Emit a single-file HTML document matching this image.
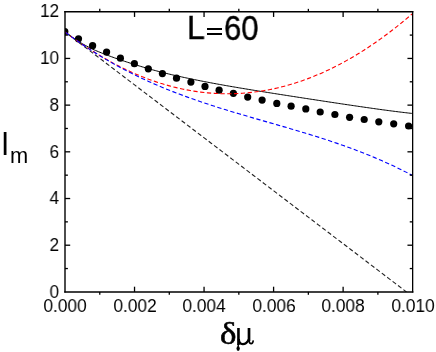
<!DOCTYPE html>
<html><head><meta charset="utf-8"><style>
html,body{margin:0;padding:0;background:#fff;}
body{width:436px;height:352px;position:relative;overflow:hidden;font-family:"Liberation Sans",sans-serif;color:#000;}
.t,.tt,#yl,#xl{will-change:transform;}
.t{position:absolute;font-size:18.2px;line-height:20px;height:20px;white-space:nowrap;}
.xt{width:80px;text-align:center;top:296.1px;transform:scaleX(0.95);transform-origin:50% 0;}
.yt{width:59.2px;text-align:right;left:0;transform:scaleX(0.95);transform-origin:100% 0;}
#yl{position:absolute;left:0.5px;top:122.7px;font-size:33.7px;line-height:40px;white-space:nowrap;}
#yl span{position:absolute;display:inline-block;transform-origin:0 0;}
#yI{left:0;top:0;transform:scaleX(0.88);}
#ym{font-size:22.5px;top:13.4px;left:9.4px;transform:scaleX(0.97);}
#xl{position:absolute;left:219px;top:314.3px;font-family:"Liberation Serif",serif;font-size:31px;line-height:36px;white-space:nowrap;}
#xl span{position:absolute;top:0;display:inline-block;transform-origin:0 0;}
#d1{left:1.3px;top:0.6px !important;font-size:32px;transform:scaleX(1.09);-webkit-text-stroke:0.6px #000;}
#d2{left:15.3px;top:1.1px !important;transform:scaleX(1.2);}
.tt{position:absolute;white-space:nowrap;line-height:40px;transform-origin:0 0;-webkit-text-stroke:0.4px #000;}
#tL{left:187.2px;top:8.0px;font-size:33.0px;transform:scaleX(0.975);}
#t60{left:223.9px;top:8.0px;font-size:34.8px;transform:scaleX(0.895);}
.eq{position:absolute;left:206.9px;width:15.1px;height:2.1px;background:#000;}
</style></head><body>
<svg width="436" height="352" viewBox="0 0 436 352" style="position:absolute;left:0;top:0"><clipPath id="c"><rect x="65.0" y="11.75" width="347.65" height="280.15"/></clipPath><g clip-path="url(#c)" fill="#000"><circle cx="64.8" cy="31.6" r="3.6"/><circle cx="78.5" cy="38.8" r="3.6"/><circle cx="92.6" cy="45.7" r="3.6"/><circle cx="106.6" cy="52.1" r="3.6"/><circle cx="120.4" cy="58.2" r="3.6"/><circle cx="134.4" cy="63.7" r="3.6"/><circle cx="148.3" cy="68.8" r="3.6"/><circle cx="162.4" cy="73.6" r="3.6"/><circle cx="176.5" cy="78.2" r="3.6"/><circle cx="190.9" cy="82.1" r="3.6"/><circle cx="205" cy="86.4" r="3.6"/><circle cx="219.1" cy="90.2" r="3.6"/><circle cx="233.4" cy="93.3" r="3.6"/><circle cx="247.7" cy="97.1" r="3.6"/><circle cx="262.1" cy="100.1" r="3.6"/><circle cx="276.8" cy="103.4" r="3.6"/><circle cx="291.1" cy="106.2" r="3.6"/><circle cx="305.8" cy="108.9" r="3.6"/><circle cx="320.2" cy="112.0" r="3.6"/><circle cx="334.9" cy="114.5" r="3.6"/><circle cx="349.6" cy="117.3" r="3.6"/><circle cx="364.2" cy="119.5" r="3.6"/><circle cx="378.8" cy="121.8" r="3.6"/><circle cx="393.7" cy="123.8" r="3.6"/><circle cx="408.6" cy="126.0" r="3.6"/></g><g clip-path="url(#c)" fill="none" stroke-width="1.1"><path d="M65.00,31.92 L66.46,33.06 L67.91,34.17 L69.37,35.25 L70.82,36.30 L72.28,37.32 L73.74,38.31 L75.19,39.28 L76.65,40.24 L78.10,41.16 L79.56,42.06 L81.02,42.93 L82.47,43.76 L83.93,44.59 L85.38,45.39 L86.84,46.19 L88.30,46.96 L89.75,47.71 L91.21,48.45 L92.67,49.16 L94.12,49.83 L95.58,50.47 L97.03,51.09 L98.49,51.69 L99.95,52.29 L101.40,52.88 L102.86,53.46 L104.31,54.03 L105.77,54.59 L107.23,55.15 L108.68,55.70 L110.14,56.24 L111.59,56.77 L113.05,57.30 L114.51,57.83 L115.96,58.35 L117.42,58.86 L118.87,59.36 L120.33,59.85 L121.79,60.35 L123.24,60.83 L124.70,61.32 L126.15,61.80 L127.61,62.28 L129.07,62.75 L130.52,63.22 L131.98,63.69 L133.44,64.15 L134.89,64.60 L136.35,65.05 L137.80,65.50 L139.26,65.95 L140.72,66.39 L142.17,66.83 L143.63,67.26 L145.08,67.69 L146.54,68.12 L148.00,68.54 L149.45,68.95 L150.91,69.36 L152.36,69.77 L153.82,70.17 L155.28,70.56 L156.73,70.95 L158.19,71.34 L159.64,71.72 L161.10,72.09 L162.56,72.46 L164.01,72.83 L165.47,73.19 L166.92,73.54 L168.38,73.90 L169.84,74.24 L171.29,74.59 L172.75,74.93 L174.21,75.26 L175.66,75.60 L177.12,75.93 L178.57,76.25 L180.03,76.57 L181.49,76.89 L182.94,77.21 L184.40,77.52 L185.85,77.83 L187.31,78.14 L188.77,78.45 L190.22,78.75 L191.68,79.05 L193.13,79.35 L194.59,79.65 L196.05,79.94 L197.50,80.23 L198.96,80.53 L200.41,80.82 L201.87,81.10 L203.33,81.39 L204.78,81.67 L206.24,81.95 L207.69,82.23 L209.15,82.51 L210.61,82.78 L212.06,83.06 L213.52,83.33 L214.97,83.60 L216.43,83.87 L217.89,84.13 L219.34,84.39 L220.80,84.66 L222.26,84.92 L223.71,85.18 L225.17,85.43 L226.62,85.69 L228.08,85.94 L229.54,86.20 L230.99,86.45 L232.45,86.70 L233.90,86.95 L235.36,87.20 L236.82,87.44 L238.27,87.69 L239.73,87.94 L241.18,88.18 L242.64,88.42 L244.10,88.66 L245.55,88.90 L247.01,89.14 L248.46,89.38 L249.92,89.62 L251.38,89.86 L252.83,90.10 L254.29,90.33 L255.74,90.57 L257.20,90.80 L258.66,91.04 L260.11,91.27 L261.57,91.50 L263.03,91.74 L264.48,91.97 L265.94,92.20 L267.39,92.43 L268.85,92.66 L270.31,92.89 L271.76,93.12 L273.22,93.35 L274.67,93.58 L276.13,93.81 L277.59,94.04 L279.04,94.26 L280.50,94.49 L281.95,94.72 L283.41,94.95 L284.87,95.17 L286.32,95.40 L287.78,95.63 L289.23,95.85 L290.69,96.08 L292.15,96.30 L293.60,96.53 L295.06,96.75 L296.51,96.98 L297.97,97.21 L299.43,97.43 L300.88,97.65 L302.34,97.88 L303.79,98.10 L305.25,98.33 L306.71,98.55 L308.16,98.78 L309.62,99.00 L311.08,99.22 L312.53,99.45 L313.99,99.67 L315.44,99.89 L316.90,100.12 L318.36,100.34 L319.81,100.56 L321.27,100.78 L322.72,101.00 L324.18,101.23 L325.64,101.45 L327.09,101.67 L328.55,101.89 L330.00,102.11 L331.46,102.33 L332.92,102.55 L334.37,102.77 L335.83,102.99 L337.28,103.21 L338.74,103.43 L340.20,103.65 L341.65,103.87 L343.11,104.08 L344.56,104.30 L346.02,104.52 L347.48,104.73 L348.93,104.95 L350.39,105.16 L351.85,105.38 L353.30,105.59 L354.76,105.81 L356.21,106.02 L357.67,106.23 L359.13,106.45 L360.58,106.66 L362.04,106.87 L363.49,107.08 L364.95,107.29 L366.41,107.50 L367.86,107.71 L369.32,107.92 L370.77,108.12 L372.23,108.33 L373.69,108.54 L375.14,108.74 L376.60,108.94 L378.05,109.15 L379.51,109.35 L380.97,109.55 L382.42,109.75 L383.88,109.94 L385.33,110.14 L386.79,110.33 L388.25,110.53 L389.70,110.72 L391.16,110.91 L392.62,111.10 L394.07,111.28 L395.53,111.47 L396.98,111.65 L398.44,111.83 L399.90,112.01 L401.35,112.19 L402.81,112.37 L404.26,112.54 L405.72,112.71 L407.18,112.88 L408.63,113.05 L410.09,113.21 L411.54,113.37 L413.00,113.53" stroke="#000" stroke-width="1.0"/><path d="M65.00,31.88 L68.48,34.53 L71.96,37.19 L75.44,39.84 L78.92,42.49 L82.40,45.14 L85.88,47.79 L89.36,50.44 L92.84,53.09 L96.32,55.74 L99.80,58.39 L103.28,61.04 L106.76,63.69 L110.24,66.34 L113.72,68.99 L117.20,71.64 L120.68,74.29 L124.16,76.94 L127.64,79.59 L131.12,82.24 L134.60,84.89 L138.08,87.54 L141.56,90.19 L145.04,92.84 L148.52,95.49 L152.00,98.14 L155.48,100.79 L158.96,103.44 L162.44,106.09 L165.92,108.74 L169.40,111.39 L172.88,114.04 L176.36,116.69 L179.84,119.34 L183.32,121.99 L186.80,124.64 L190.28,127.29 L193.76,129.94 L197.24,132.60 L200.72,135.25 L204.20,137.90 L207.68,140.55 L211.16,143.20 L214.64,145.85 L218.12,148.50 L221.60,151.15 L225.08,153.80 L228.56,156.45 L232.04,159.10 L235.52,161.75 L239.00,164.40 L242.48,167.05 L245.96,169.70 L249.44,172.35 L252.92,175.00 L256.40,177.65 L259.88,180.30 L263.36,182.95 L266.84,185.60 L270.32,188.25 L273.80,190.90 L277.28,193.55 L280.76,196.20 L284.24,198.85 L287.72,201.50 L291.20,204.15 L294.68,206.80 L298.16,209.45 L301.64,212.10 L305.12,214.75 L308.60,217.40 L312.08,220.05 L315.56,222.70 L319.04,225.35 L322.52,228.01 L326.00,230.66 L329.48,233.31 L332.96,235.96 L336.44,238.61 L339.92,241.26 L343.40,243.91 L346.88,246.56 L350.36,249.21 L353.84,251.86 L357.32,254.51 L360.80,257.16 L364.28,259.81 L367.76,262.46 L371.24,265.11 L374.72,267.76 L378.20,270.41 L381.68,273.06 L385.16,275.71 L388.64,278.36 L392.12,281.01 L395.60,283.66 L399.08,286.31 L402.56,288.96 L406.04,291.61 L406.55,292.0" stroke="#222" stroke-dasharray="4.3 2.5" stroke-dashoffset="3"/><path d="M65.00,31.88 L68.48,34.51 L71.96,37.07 L75.44,39.58 L78.92,42.03 L82.40,44.43 L85.88,46.76 L89.36,49.05 L92.84,51.27 L96.32,53.44 L99.80,55.55 L103.28,57.60 L106.76,59.60 L110.24,61.54 L113.72,63.43 L117.20,65.25 L120.68,67.03 L124.16,68.74 L127.64,70.40 L131.12,72.00 L134.60,73.54 L138.08,75.03 L141.56,76.46 L145.04,77.83 L148.52,79.15 L152.00,80.41 L155.48,81.61 L158.96,82.76 L162.44,83.85 L165.92,84.88 L169.40,85.86 L172.88,86.78 L176.36,87.64 L179.84,88.44 L183.32,89.19 L186.80,89.89 L190.28,90.52 L193.76,91.10 L197.24,91.62 L200.72,92.09 L204.20,92.50 L207.68,92.85 L211.16,93.14 L214.64,93.38 L218.12,93.56 L221.60,93.69 L225.08,93.76 L228.56,93.77 L232.04,93.72 L235.52,93.62 L239.00,93.46 L242.48,93.25 L245.96,92.98 L249.44,92.65 L252.92,92.26 L256.40,91.82 L259.88,91.32 L263.36,90.76 L266.84,90.15 L270.32,89.48 L273.80,88.75 L277.28,87.97 L280.76,87.13 L284.24,86.24 L287.72,85.28 L291.20,84.27 L294.68,83.21 L298.16,82.08 L301.64,80.90 L305.12,79.66 L308.60,78.37 L312.08,77.02 L315.56,75.61 L319.04,74.15 L322.52,72.63 L326.00,71.05 L329.48,69.42 L332.96,67.73 L336.44,65.98 L339.92,64.17 L343.40,62.31 L346.88,60.39 L350.36,58.42 L353.84,56.39 L357.32,54.30 L360.80,52.16 L364.28,49.95 L367.76,47.70 L371.24,45.38 L374.72,43.01 L378.20,40.58 L381.68,38.09 L385.16,35.55 L388.64,32.95 L392.12,30.30 L395.60,27.58 L399.08,24.82 L402.56,21.99 L406.04,19.11 L409.52,16.17 L413.00,13.17" stroke="#f00" stroke-dasharray="4.3 2.5"/><path d="M65.00,31.88 L68.48,34.51 L71.96,37.07 L75.44,39.58 L78.92,42.04 L82.40,44.45 L85.88,46.80 L89.36,49.10 L92.84,51.35 L96.32,53.56 L99.80,55.71 L103.28,57.82 L106.76,59.88 L110.24,61.90 L113.72,63.87 L117.20,65.80 L120.68,67.69 L124.16,69.54 L127.64,71.34 L131.12,73.11 L134.60,74.84 L138.08,76.53 L141.56,78.19 L145.04,79.81 L148.52,81.40 L152.00,82.95 L155.48,84.47 L158.96,85.96 L162.44,87.42 L165.92,88.85 L169.40,90.25 L172.88,91.62 L176.36,92.97 L179.84,94.29 L183.32,95.58 L186.80,96.86 L190.28,98.11 L193.76,99.34 L197.24,100.54 L200.72,101.73 L204.20,102.90 L207.68,104.05 L211.16,105.19 L214.64,106.31 L218.12,107.41 L221.60,108.50 L225.08,109.58 L228.56,110.65 L232.04,111.70 L235.52,112.75 L239.00,113.78 L242.48,114.81 L245.96,115.83 L249.44,116.85 L252.92,117.86 L256.40,118.87 L259.88,119.87 L263.36,120.87 L266.84,121.87 L270.32,122.87 L273.80,123.87 L277.28,124.87 L280.76,125.88 L284.24,126.89 L287.72,127.90 L291.20,128.92 L294.68,129.94 L298.16,130.98 L301.64,132.02 L305.12,133.07 L308.60,134.13 L312.08,135.21 L315.56,136.29 L319.04,137.39 L322.52,138.51 L326.00,139.64 L329.48,140.78 L332.96,141.95 L336.44,143.13 L339.92,144.33 L343.40,145.55 L346.88,146.79 L350.36,148.06 L353.84,149.35 L357.32,150.66 L360.80,151.99 L364.28,153.36 L367.76,154.75 L371.24,156.17 L374.72,157.62 L378.20,159.09 L381.68,160.60 L385.16,162.14 L388.64,163.72 L392.12,165.33 L395.60,166.97 L399.08,168.65 L402.56,170.36 L406.04,172.12 L409.52,173.91 L413.00,175.74" stroke="#00f" stroke-dasharray="4.3 2.5" stroke-dashoffset="6.0"/></g><g stroke="#000" stroke-linecap="square"><line x1="65.0" y1="11.75" x2="412.65" y2="11.75" stroke-width="1.4"/><line x1="65.0" y1="291.9" x2="412.65" y2="291.9" stroke-width="1.5"/><line x1="65.0" y1="11.75" x2="65.0" y2="291.9" stroke-width="1.4"/><line x1="412.65" y1="11.75" x2="412.65" y2="291.9" stroke-width="1.3"/></g><g stroke="#000" stroke-width="1.3"><line x1="99.77" y1="291.9" x2="99.77" y2="294.79999999999995"/><line x1="99.77" y1="11.75" x2="99.77" y2="8.85"/><line x1="134.53" y1="291.9" x2="134.53" y2="286.7"/><line x1="134.53" y1="11.75" x2="134.53" y2="16.95"/><line x1="169.30" y1="291.9" x2="169.30" y2="294.79999999999995"/><line x1="169.30" y1="11.75" x2="169.30" y2="8.85"/><line x1="204.06" y1="291.9" x2="204.06" y2="286.7"/><line x1="204.06" y1="11.75" x2="204.06" y2="16.95"/><line x1="238.83" y1="291.9" x2="238.83" y2="294.79999999999995"/><line x1="238.83" y1="11.75" x2="238.83" y2="8.85"/><line x1="273.59" y1="291.9" x2="273.59" y2="286.7"/><line x1="273.59" y1="11.75" x2="273.59" y2="16.95"/><line x1="308.36" y1="291.9" x2="308.36" y2="294.79999999999995"/><line x1="308.36" y1="11.75" x2="308.36" y2="8.85"/><line x1="343.12" y1="291.9" x2="343.12" y2="286.7"/><line x1="343.12" y1="11.75" x2="343.12" y2="16.95"/><line x1="377.89" y1="291.9" x2="377.89" y2="294.79999999999995"/><line x1="377.89" y1="11.75" x2="377.89" y2="8.85"/><line x1="65.0" y1="268.55" x2="67.9" y2="268.55"/><line x1="412.65" y1="268.55" x2="409.75" y2="268.55"/><line x1="65.0" y1="245.21" x2="70.2" y2="245.21"/><line x1="412.65" y1="245.21" x2="407.45" y2="245.21"/><line x1="65.0" y1="221.86" x2="67.9" y2="221.86"/><line x1="412.65" y1="221.86" x2="409.75" y2="221.86"/><line x1="65.0" y1="198.52" x2="70.2" y2="198.52"/><line x1="412.65" y1="198.52" x2="407.45" y2="198.52"/><line x1="65.0" y1="175.17" x2="67.9" y2="175.17"/><line x1="412.65" y1="175.17" x2="409.75" y2="175.17"/><line x1="65.0" y1="151.82" x2="70.2" y2="151.82"/><line x1="412.65" y1="151.82" x2="407.45" y2="151.82"/><line x1="65.0" y1="128.48" x2="67.9" y2="128.48"/><line x1="412.65" y1="128.48" x2="409.75" y2="128.48"/><line x1="65.0" y1="105.13" x2="70.2" y2="105.13"/><line x1="412.65" y1="105.13" x2="407.45" y2="105.13"/><line x1="65.0" y1="81.79" x2="67.9" y2="81.79"/><line x1="412.65" y1="81.79" x2="409.75" y2="81.79"/><line x1="65.0" y1="58.44" x2="70.2" y2="58.44"/><line x1="412.65" y1="58.44" x2="407.45" y2="58.44"/><line x1="65.0" y1="35.10" x2="67.9" y2="35.10"/><line x1="412.65" y1="35.10" x2="409.75" y2="35.10"/></g><g id="mu" fill="none" stroke="#000" stroke-linecap="butt"><path d="M238.45,328.0 L238.45,345.0" stroke-width="2.6"/><path d="M238.3,344 L238.2,347.5" stroke-width="1.4"/><ellipse cx="238.15" cy="348.6" rx="1.65" ry="2.4" fill="#000" stroke="none"/><path d="M238.8,339.0 C239.0,345.8 245.8,345.6 248.8,339.4" stroke-width="2.3"/><path d="M249.0,328.0 L249.0,341.2" stroke-width="2.7"/><path d="M249.0,340.0 C249.0,344.6 252.7,344.9 253.3,340.3" stroke-width="1.6"/></g></svg>
<div class="t xt" style="left:25.00px;">0.000</div><div class="t xt" style="left:94.53px;">0.002</div><div class="t xt" style="left:164.06px;">0.004</div><div class="t xt" style="left:233.59px;">0.006</div><div class="t xt" style="left:303.12px;">0.008</div><div class="t xt" style="left:372.65px;">0.010</div><div class="t yt" style="top:281.80px;">0</div><div class="t yt" style="top:235.11px;">2</div><div class="t yt" style="top:188.42px;">4</div><div class="t yt" style="top:141.72px;">6</div><div class="t yt" style="top:95.03px;">8</div><div class="t yt" style="top:48.34px;">10</div><div class="t yt" style="top:1.15px;">12</div>
<div id="tL" class="tt">L</div><div class="eq" style="top:27.5px"></div><div class="eq" style="top:33.2px"></div><div id="t60" class="tt">60</div>
<div id="yl"><span id="yI">I</span><span id="ym">m</span></div>
<div id="xl"><span id="d1">δ</span></div>
</body></html>
